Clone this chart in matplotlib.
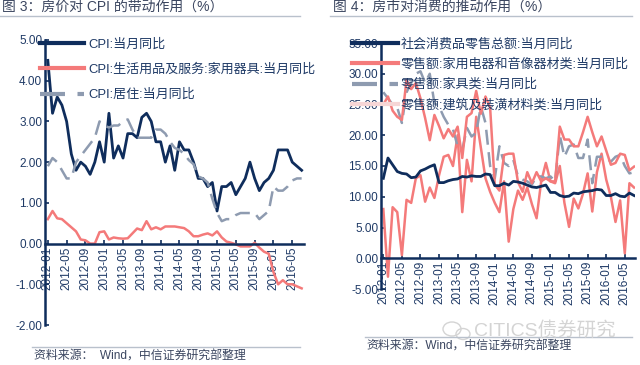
import matplotlib
matplotlib.use('Agg')
import matplotlib.pyplot as plt
import numpy as np
from matplotlib.ticker import FormatStrFormatter
from matplotlib.patches import Ellipse

plt.rcParams['font.family'] = ['Liberation Sans', 'Noto Sans CJK SC']

NAVY = '#0f2d5c'
SALMON = '#f47a7a'
GREY = '#8e9bb0'
TXT = '#1f3a66'
TITLE = '#3b4660'

# ---- data, monthly 2012-01 .. 2016-07 ----
tick_labels = ['2012-01', '2012-05', '2012-09', '2013-01', '2013-05', '2013-09', '2014-01',
               '2014-05', '2014-09', '2015-01', '2015-05', '2015-09', '2016-01', '2016-05']

cpi = [4.5, 3.2, 3.6, 3.4, 3.0, 2.2, 1.8, 2.0, 1.9, 1.7, 2.0, 2.5,
       2.0, 3.2, 2.1, 2.4, 2.1, 2.7, 2.7, 2.6, 3.1, 3.2, 3.0, 2.5,
       2.5, 2.0, 2.4, 1.8, 2.5, 2.3, 2.3, 2.0, 1.6, 1.6, 1.4, 1.5,
       0.8, 1.4, 1.4, 1.5, 1.2, 1.4, 1.6, 2.0, 1.6, 1.3, 1.5, 1.6,
       1.8, 2.3, 2.3, 2.3, 2.0, 1.9, 1.8]
cpi_appliance = [0.6, 0.8, 0.62, 0.6, 0.5, 0.4, 0.3, 0.1, 0.08, 0.0, 0.0, 0.28,
                 0.3, 0.1, 0.15, 0.13, 0.12, 0.13, 0.25, 0.37, 0.33, 0.55, 0.35, 0.4,
                 0.35, 0.42, 0.42, 0.42, 0.4, 0.38, 0.3, 0.18, 0.18, 0.22, 0.25, 0.2,
                 0.3, 0.15, 0.05, 0.02, -0.02, -0.07, -0.07, -0.07, 0.02, -0.1, -0.2, -0.25,
                 -0.7, -1.0, -0.9, -1.0, -1.0, -1.05, -1.1]
cpi_housing = [1.9, 2.1, 2.0, 1.8, 1.6, 1.6, 2.0, 2.15, 2.3, 2.45, 2.6, 3.0,
               2.9, 2.85, 2.9, 2.9, 3.0, 3.05, 2.8, 2.6, 2.6, 2.6, 2.6, 2.8,
               2.8, 2.7, 2.5, 2.35, 2.3, 2.2, 2.05, 1.95, 1.65, 1.6, 1.5, 1.1,
               0.75, 0.55, 0.6, 0.6, 0.7, 0.75, 0.75, 0.75, 0.75, 0.6, 0.7, 0.8,
               1.4, 1.3, 1.3, 1.4, 1.55, 1.6, 1.6]

retail_total = [13.0, 16.3, 15.2, 14.1, 13.8, 13.7, 13.1, 13.2, 14.2, 14.5, 14.9, 15.2,
                12.3, 12.3, 12.6, 12.8, 12.9, 13.3, 13.2, 13.4, 13.3, 13.3, 13.7, 13.6,
                11.8, 11.8, 12.2, 11.9, 12.5, 12.4, 12.2, 11.9, 11.6, 11.5, 11.7, 11.9,
                10.7, 10.7, 10.2, 10.0, 10.1, 10.6, 10.5, 10.8, 10.9, 11.0, 11.2, 11.1,
                10.2, 10.2, 10.5, 10.1, 10.0, 10.6, 10.2]
retail_appliance = [8.0, -3.0, 8.3, 7.5, 0.5, 9.5, 9.0, 13.0, 13.5, 9.2, 11.5, 9.8,
                    13.5, 16.5, 16.8, 15.0, 20.0, 7.5, 16.0, 12.5, 23.0, 18.0, 13.0, 10.8,
                    9.0, 7.5, 12.5, 2.7, 8.0, 11.0, 9.5, 11.5, 8.8, 6.5, 12.5, 15.5,
                    12.5, 12.2, 15.0, 9.0, 5.1, 9.7, 8.1, 10.5, 13.8, 7.6, 14.0, 17.0,
                    12.8, 10.0, 5.9, 9.4, 0.8, 12.2, 11.5]
retail_furniture = [27.0, 26.0, 25.0, 24.5, 22.0, 27.0, 28.5, 30.0, 30.4, 28.5, 30.0, 25.2,
                    24.7, 23.0, 21.7, 21.0, 18.2, 17.6, 21.2, 19.8, 20.4, 24.7, 22.0, 15.0,
                    13.0, 18.2, 15.5, 15.0, 16.0, 13.3, 12.8, 12.5, 12.0, 13.3, 13.3, 13.0,
                    13.3, 12.5, 20.0, 16.5, 18.2, 18.5, 16.3, 16.3, 19.3, 12.2, 16.5, 16.5,
                    16.3, 15.7, 16.5, 16.8, 15.0, 13.8, 14.0]
retail_building = [25.0, 26.3, 24.0, 23.0, 22.5, 29.0, 27.5, 28.5, 26.0, 22.8, 19.2, 23.3,
                   21.5, 19.5, 21.0, 19.8, 21.4, 16.3, 23.0, 23.6, 27.2, 23.5, 26.3, 24.5,
                   12.0, 11.0, 16.8, 17.0, 17.0, 12.4, 10.8, 14.0, 12.2, 14.0, 12.5, 13.0,
                   12.5, 12.5, 21.4, 19.3, 19.3, 18.2, 18.2, 20.5, 23.0, 20.5, 18.2, 19.8,
                   17.5, 15.2, 15.5, 17.0, 16.8, 14.3, 14.9]

W, H = 640, 365
fig = plt.figure(figsize=(W / 100, H / 100), dpi=100)
fig.patch.set_facecolor('white')


def box(l, t, r, b):
    return [l / W, 1 - b / H, (r - l) / W, (b - t) / H]


def style_axis(ax, ylo, yhi, step, xlo, xhi):
    ax.set_ylim(ylo, yhi)
    ax.set_xlim(xlo, xhi)
    ax.set_yticks(np.arange(ylo, yhi + 0.01, step))
    ax.yaxis.set_major_formatter(FormatStrFormatter('%.2f'))
    ax.set_xticks(np.arange(0, 53, 4))
    ax.set_xticklabels(tick_labels)
    for s in ['top', 'right']:
        ax.spines[s].set_visible(False)
    for s in ['left', 'bottom']:
        ax.spines[s].set_color(NAVY)
        ax.spines[s].set_linewidth(1.8)
    ax.spines['bottom'].set_position(('data', 0))
    ax.tick_params(axis='both', colors=NAVY, labelcolor=TXT, labelsize=8.5,
                   length=3, width=1.2, direction='in', pad=2)
    ax.tick_params(axis='x', labelrotation=90)
    ax.set_facecolor('none')


# ---- left chart ----
x1 = np.arange(len(cpi))
ax1 = fig.add_axes(box(45, 40, 304, 325))
ax1.plot(x1, cpi, color=NAVY, lw=2, label='CPI:当月同比')
ax1.plot(x1, cpi_appliance, color=SALMON, lw=1.8, label='CPI:生活用品及服务:家用器具:当月同比')
ax1.plot(x1, cpi_housing, color=GREY, lw=1.8, ls=(0, (6, 3)), label='CPI:居住:当月同比')
style_axis(ax1, -2, 5, 1, -0.6, 54.5)
leg1 = ax1.legend(loc='upper left', bbox_to_anchor=(40 / W, 1 - 38 / H),
                  bbox_transform=fig.transFigure, frameon=False, fontsize=9.4,
                  handlelength=3.4, handletextpad=0.3, labelspacing=1.0, borderpad=0,
                  borderaxespad=0)
for t in leg1.get_texts():
    t.set_color(TXT)
for h in leg1.legend_handles:
    h.set_linewidth(3)

# ---- right chart ----
x2 = np.arange(len(retail_total))
ax2 = fig.add_axes(box(381, 43, 635, 289))
ax2.plot(x2, retail_total, color=NAVY, lw=2, label='社会消费品零售总额:当月同比', zorder=5)
ax2.plot(x2, retail_appliance, color=SALMON, lw=1.8, label='零售额:家用电器和音像器材类:当月同比')
ax2.plot(x2, retail_furniture, color=GREY, lw=1.8, ls=(0, (6, 3)), label='零售额:家具类:当月同比')
ax2.plot(x2, retail_building, color=SALMON, lw=1.8, label='零售额:建筑及装潢材料类:当月同比')
style_axis(ax2, -5, 35, 5, -0.5, 54.2)
leg2 = ax2.legend(loc='upper left', bbox_to_anchor=(352 / W, 1 - 38 / H),
                  bbox_transform=fig.transFigure, frameon=False, fontsize=9.4,
                  handlelength=3.5, handletextpad=0.25, labelspacing=0.6, borderpad=0,
                  borderaxespad=0)
for t in leg2.get_texts():
    t.set_color(TXT)
for h in leg2.legend_handles:
    h.set_linewidth(3)
leg2.legend_handles[3].set_color('#f6d6d6')

# ---- titles, rules, sources ----
fig.text(2 / W, 1 - 7 / H, '图 3：房价对 CPI 的带动作用（%）', fontsize=10, color=TITLE, va='center')
fig.text(333 / W, 1 - 7 / H, '图 4：房市对消费的推动作用（%）', fontsize=10, color=TITLE, va='center')
fig.add_artist(plt.Line2D([0, 300 / W], [1 - 16 / H] * 2, color='#b9c1cc', lw=1))
fig.add_artist(plt.Line2D([330 / W, 632 / W], [1 - 16 / H] * 2, color='#b9c1cc', lw=1))

# watermark
for cx, cy, w, h in [(452, 329, 18, 14), (463, 334, 14, 11)]:
    fig.add_artist(Ellipse((cx / W, 1 - cy / H), w / W, h / H, transform=fig.transFigure,
                           fill=False, ec='#d4d4d4', lw=1))
fig.text(545 / W, 1 - 331 / H, 'CITICS债券研究', fontsize=14, color='#d4d4d4', ha='center', va='center')

fig.add_artist(plt.Line2D([32 / W, 300 / W], [1 - 347 / H] * 2, color='#b9c1cc', lw=1))
fig.add_artist(plt.Line2D([365 / W, 632 / W], [1 - 337 / H] * 2, color='#b9c1cc', lw=1))
fig.text(34 / W, 1 - 357 / H, '资料来源：  Wind，中信证券研究部整理', fontsize=8.6, color=TITLE, va='center')
fig.text(366 / W, 1 - 347 / H, '资料来源：Wind，中信证券研究部整理', fontsize=8.6, color=TITLE, va='center')

fig.savefig('out.png', dpi=100)
